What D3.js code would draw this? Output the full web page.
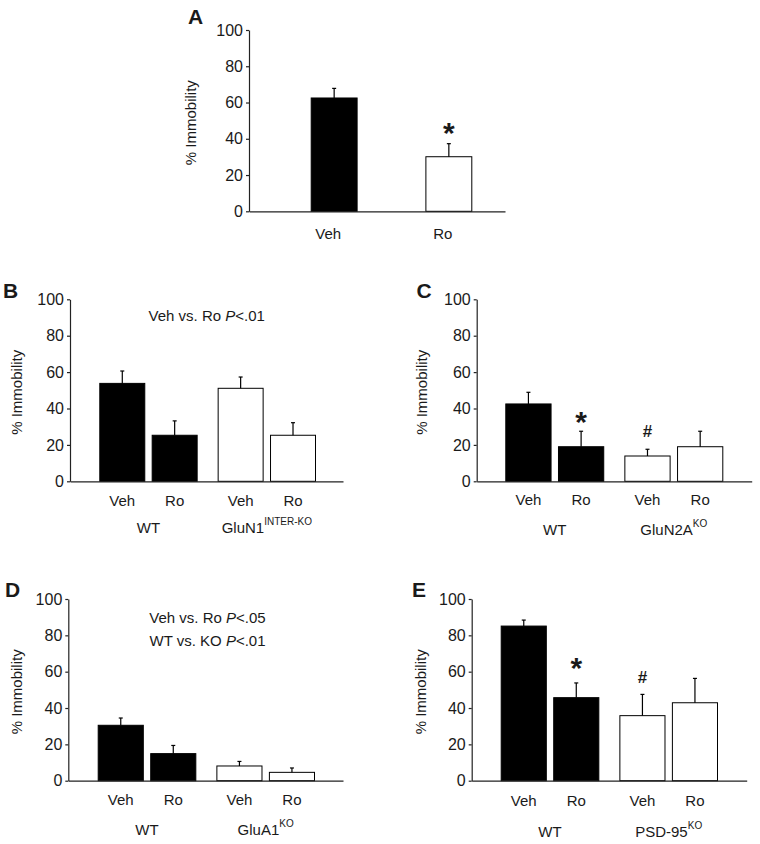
<!DOCTYPE html>
<html>
<head>
<meta charset="utf-8">
<script src="https://cdn.jsdelivr.net/npm/d3@7"></script>
<style>
  html, body { margin: 0; padding: 0; background: #fff; }
  svg { display: block; }
  text { font-family: "Liberation Sans", Arial, sans-serif; fill: #1a1a1a; }
</style>
</head>
<body>
<svg id="chart" width="760" height="844"></svg>
<script>
// ---------------- DATA ----------------
const yTicks = [0, 20, 40, 60, 80, 100];
const treatments = ["Veh", "Ro"];

// Panel A
const groupsA = ["Veh", "Ro"];
const meansA = [62.5, 30.1];
const semA = [5.3, 7.2];
const sigA = ["", "*"];

// Panel B
const groupsB = ["WT", "GluN1"];
const groupSupB = ["", "INTER-KO"];
const meansB = [53.8, 25.3, 51.1, 25.3];
const semB = [6.8, 7.9, 6.2, 6.9];
const sigB = ["", "", "", ""];
const noteB = [["Veh vs. Ro ", "P", "<.01"]];

// Panel C
const groupsC = ["WT", "GluN2A"];
const groupSupC = ["", "KO"];
const meansC = [42.5, 19.0, 13.9, 19.0];
const semC = [6.4, 8.5, 3.7, 8.5];
const sigC = ["", "*", "#", ""];

// Panel D
const groupsD = ["WT", "GluA1"];
const groupSupD = ["", "KO"];
const meansD = [30.5, 14.9, 8.1, 4.6];
const semD = [4.0, 4.5, 2.5, 2.4];
const sigD = ["", "", "", ""];
const noteD = [["Veh vs. Ro ", "P", "<.05"], ["WT vs. KO ", "P", "<.01"]];

// Panel E
const groupsE = ["WT", "PSD-95"];
const groupSupE = ["", "KO"];
const meansE = [85.1, 45.7, 35.8, 42.9];
const semE = [3.3, 8.1, 11.7, 13.4];
const sigE = ["", "*", "#", ""];

// ---------------- DRAWING ----------------
const svg = d3.select("#chart");
const fillFor = gi => gi === 0 ? "#000" : "#fff";

function drawPanel(cfg) {
  const g = svg.append("g");
  const y = d3.scaleLinear().domain([0, 100]).range([cfg.y0, cfg.y100]);

  const outer = d3.scaleBand().domain(cfg.groups).range(cfg.barRange).paddingInner(cfg.outerPad).paddingOuter(0);
  const inner = d3.scaleBand().domain(cfg.treats).range([0, outer.bandwidth()]).paddingInner(cfg.innerPad).paddingOuter(0);

  const bars = [];
  cfg.groups.forEach((grp, gi) => {
    cfg.treats.forEach((tr, ti) => {
      const k = gi * cfg.treats.length + ti;
      bars.push({ grp, gi, tr, mean: cfg.means[k], sem: cfg.sem[k], sig: cfg.sig[k] });
    });
  });
  const bx = d => outer(d.grp) + inner(d.tr);
  const bw = inner.bandwidth();

  // bars
  g.selectAll("rect.bar").data(bars).join("rect")
    .attr("x", d => bx(d) + 0.5)
    .attr("y", d => y(d.mean))
    .attr("width", bw - 1)
    .attr("height", d => y(0) - y(d.mean))
    .attr("fill", d => fillFor(d.gi))
    .attr("stroke", "#000").attr("stroke-width", 1);

  // error bars
  const eb = g.selectAll("g.err").data(bars).join("g").attr("stroke", "#000").attr("stroke-width", 1.2);
  eb.append("line")
    .attr("x1", d => bx(d) + bw / 2).attr("x2", d => bx(d) + bw / 2)
    .attr("y1", d => y(d.mean)).attr("y2", d => y(d.mean + d.sem));
  eb.append("line")
    .attr("x1", d => bx(d) + bw / 2 - 2).attr("x2", d => bx(d) + bw / 2 + 2)
    .attr("y1", d => y(d.mean + d.sem)).attr("y2", d => y(d.mean + d.sem));

  // significance marks
  g.selectAll("text.sig").data(bars.filter(d => d.sig)).join("text")
    .attr("x", d => bx(d) + bw / 2)
    .attr("y", d => d.sig === "*" ? y(d.mean + d.sem) - cfg.starOff : y(d.mean + d.sem) - cfg.hashOff)
    .attr("text-anchor", "middle")
    .attr("font-weight", "bold")
    .attr("fill", "#000")
    .attr("font-size", d => d.sig === "*" ? 30 : 17)
    .text(d => d.sig);

  // y axis
  const yAxis = d3.axisLeft(y).tickValues(yTicks).tickSize(3).tickPadding(3).tickSizeOuter(0);
  const ya = g.append("g").attr("transform", `translate(${cfg.axisX},0)`).call(yAxis);
  ya.selectAll("path,line").attr("stroke", "#222").attr("stroke-width", 1.2);
  ya.selectAll("text").attr("font-size", 16).attr("fill", "#1a1a1a")
    .attr("font-family", '"Liberation Sans", Arial, sans-serif');

  // x axis (baseline)
  const xs = d3.scaleLinear().domain([0, 1]).range([cfg.axisX, cfg.xEnd]);
  const xa = g.append("g").attr("transform", `translate(0,${y(0)})`)
    .call(d3.axisBottom(xs).tickValues([]).tickSizeOuter(0));
  xa.selectAll("path").attr("stroke", "#222").attr("stroke-width", 1.2);

  // y title
  g.append("text")
    .attr("transform", `translate(${cfg.titleX},${(cfg.y0 + cfg.y100) / 2 + 2}) rotate(-90)`)
    .attr("text-anchor", "middle").attr("font-size", 15)
    .text("% Immobility");

  // category labels
  g.selectAll("text.cat").data(bars).join("text")
    .attr("x", d => bx(d) + bw / 2 + (cfg.catShift || 0))
    .attr("y", y(0) + cfg.catOff)
    .attr("text-anchor", "middle").attr("font-size", 15)
    .text(d => cfg.single ? d.grp : d.tr);

  // group labels
  if (!cfg.single) {
    const gl = g.selectAll("text.grp").data(cfg.groups).join("text")
      .attr("x", d => outer(d) + outer.bandwidth() / 2)
      .attr("y", y(0) + cfg.grpOff)
      .attr("text-anchor", "middle").attr("font-size", 15);
    gl.append("tspan").text(d => d);
    gl.append("tspan").attr("font-size", 10).attr("dy", -8)
      .text((d, i) => cfg.sup[i]);
  }

  // notes
  if (cfg.notes) {
    cfg.notes.forEach((n, i) => {
      const t = g.append("text").attr("x", cfg.noteX).attr("y", cfg.noteY + i * 22.7)
        .attr("text-anchor", "middle").attr("font-size", 15);
      t.append("tspan").text(n[0]);
      t.append("tspan").attr("font-style", "italic").text(n[1]);
      t.append("tspan").text(n[2]);
    });
  }

  // panel letter
  g.append("text").attr("x", cfg.letterX).attr("y", cfg.letterY)
    .attr("font-size", 21).attr("font-weight", "bold").attr("fill", "#000")
    .text(cfg.letter);
}

drawPanel({
  letter: "A", letterX: 188, letterY: 23.5, single: true,
  groups: groupsA, treats: ["all"], means: meansA, sem: semA, sig: sigA,
  axisX: 249, xEnd: 505, y0: 211.3, y100: 30,
  barRange: [310.7, 472.3], outerPad: 0.591, innerPad: 0,
  titleX: 195.5, catOff: 27.7, catShift: -6, starOff: 0.5, hashOff: 12
});
drawPanel({
  letter: "B", letterX: 3, letterY: 298,
  groups: groupsB, sup: groupSupB, treats: treatments, means: meansB, sem: semB, sig: sigB,
  axisX: 70, xEnd: 343, y0: 481.3, y100: 299.3,
  barRange: [99.3, 316], outerPad: 0.169, innerPad: 0.122,
  titleX: 22, catOff: 24.7, grpOff: 51.7, notes: noteB, noteX: 206.7, noteY: 320.5,
  starOff: 0, hashOff: 12
});
drawPanel({
  letter: "C", letterX: 416.5, letterY: 298,
  groups: groupsC, sup: groupSupC, treats: treatments, means: meansC, sem: semC, sig: sigC,
  axisX: 476.7, xEnd: 751.7, y0: 481.3, y100: 299.3,
  barRange: [505.3, 723.3], outerPad: 0.169, innerPad: 0.122,
  titleX: 426.5, catOff: 24, grpOff: 53.7,
  starOff: -0.5, hashOff: 12
});
drawPanel({
  letter: "D", letterX: 5, letterY: 597,
  groups: groupsD, sup: groupSupD, treats: treatments, means: meansD, sem: semD, sig: sigD,
  axisX: 68.3, xEnd: 343, y0: 780.7, y100: 599,
  barRange: [97.7, 315], outerPad: 0.169, innerPad: 0.122,
  titleX: 22.2, catOff: 24.5, grpOff: 54.5, notes: noteD, noteX: 207.5, noteY: 623.3,
  starOff: 0, hashOff: 12
});
drawPanel({
  letter: "E", letterX: 412, letterY: 597,
  groups: groupsE, sup: groupSupE, treats: treatments, means: meansE, sem: semE, sig: sigE,
  axisX: 471.7, xEnd: 746.7, y0: 780.7, y100: 599,
  barRange: [500.7, 718], outerPad: 0.169, innerPad: 0.122,
  titleX: 426, catOff: 25, grpOff: 56,
  starOff: 4.5, hashOff: 11.7
});
</script>
</body>
</html>
